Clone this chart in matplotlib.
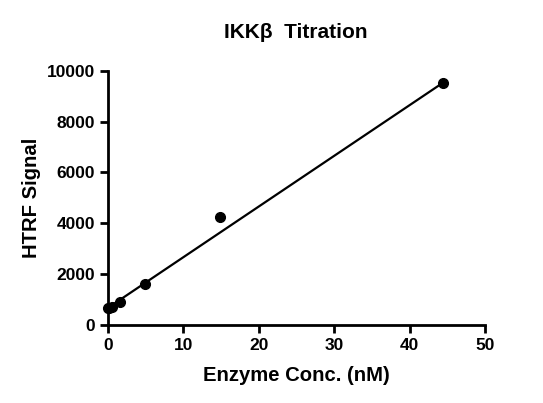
import matplotlib
matplotlib.use('Agg')
import matplotlib.pyplot as plt
import numpy as np

plt.rcParams['font.family'] = ['Liberation Sans', 'DejaVu Sans']
plt.rcParams['font.weight'] = 'bold'

# enzyme concentration (nM) and HTRF signal
conc = [0, 0.18, 0.55, 1.65, 4.94, 14.8, 44.4]
signal = [650, 680, 720, 880, 1600, 4265, 9520]

# linear fit as drawn in the reference
fit_slope = 199.5
fit_intercept = 670

fig = plt.figure(figsize=(5.43, 4.03), dpi=100)
ax = fig.add_axes([0.199, 0.194, 0.694, 0.630])

ax.plot(conc, signal, 'o', color='black', markersize=7)

xfit = np.array([min(conc), max(conc)])
ax.plot(xfit, fit_slope * xfit + fit_intercept, '-', color='black', linewidth=1.6)

ax.set_xlim(0, 50)
ax.set_ylim(0, 10000)
ax.set_xticks([0, 10, 20, 30, 40, 50])
ax.set_yticks([0, 2000, 4000, 6000, 8000, 10000])
ax.spines['top'].set_visible(False)
ax.spines['right'].set_visible(False)
ax.spines['left'].set_linewidth(2)
ax.spines['bottom'].set_linewidth(2)
ax.tick_params(width=2, length=6, labelsize=12.5, direction='out')
for lab in ax.get_xticklabels() + ax.get_yticklabels():
    lab.set_fontweight('bold')
for ln in ax.lines:
    ln.set_clip_on(False)

ax.set_xlabel('Enzyme Conc. (nM)', fontsize=14.6, fontweight='bold', labelpad=9)
ax.set_ylabel('HTRF Signal', fontsize=14.6, fontweight='bold', labelpad=4)
fig.text(0.545, 0.92, 'IKK\u03b2  Titration', ha='center', va='center',
         fontsize=15, fontweight='bold')

fig.savefig('out.png', dpi=100)
